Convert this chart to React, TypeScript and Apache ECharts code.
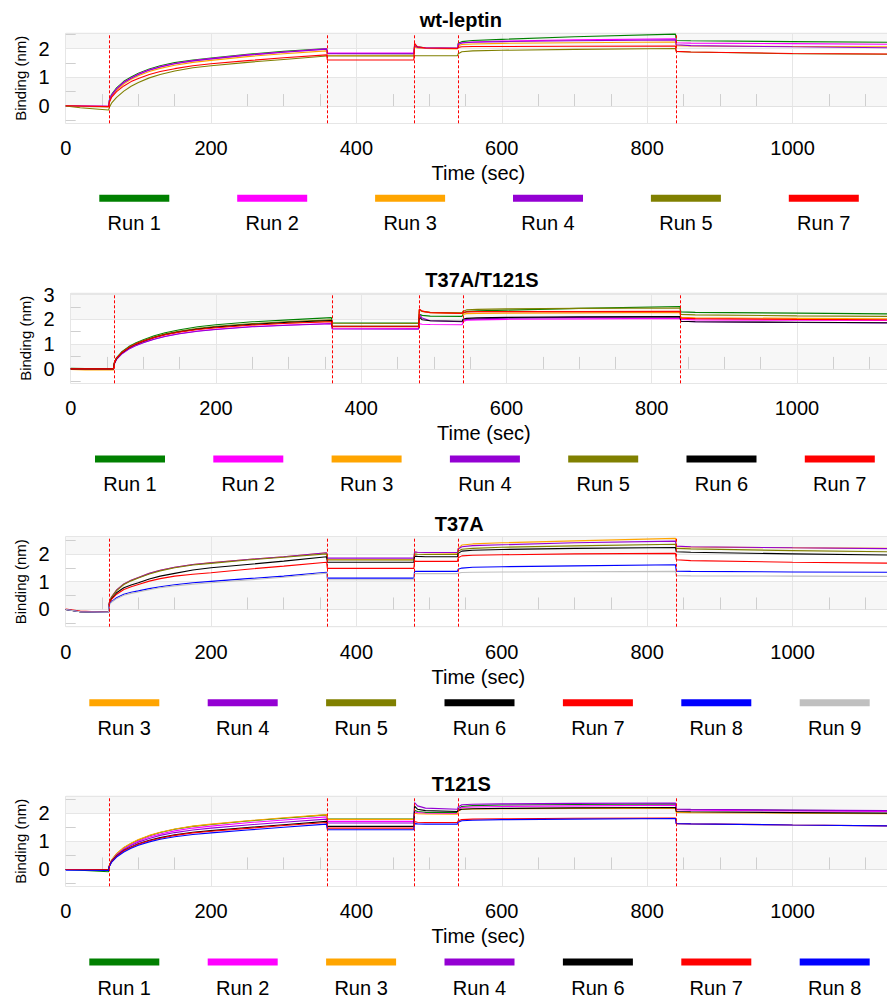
import React, { useEffect, useRef } from "react";
import * as echarts from "echarts";

// ---------- shared axes data ----------
const TIME = [0, 20, 59, 60, 63, 70, 80, 90, 100, 115, 130, 150, 175, 200, 250, 300, 359, 360, 479, 480, 484, 495, 539, 540, 545, 560, 600, 700, 839, 840, 860, 1000, 1130];
const PHASE_STARTS = [60, 360, 480, 540, 840];
const X_MINOR_TICKS = [50, 100, 150, 250, 300, 350, 450, 500, 550, 650, 700, 750, 850, 900, 950, 1050, 1100];
const Y_MINOR_TICKS = [-0.5, 0.5, 1.5, 2.5];

const RUN_COLORS: Record<string, string> = {
  "Run 1": "#008000",
  "Run 2": "#ff00ff",
  "Run 3": "#ffa500",
  "Run 4": "#9400d3",
  "Run 5": "#808000",
  "Run 6": "#000000",
  "Run 7": "#ff0000",
  "Run 8": "#0000ff",
  "Run 9": "#c0c0c0",
};

// ---------- wt-leptin ----------
const WT_RUN1 = [0, -0.01, -0.02, 0.2, 0.4, 0.63, 0.86, 1.01, 1.14, 1.29, 1.4, 1.51, 1.6, 1.67, 1.8, 1.9, 2.0, 1.83, 1.82, 2.1, 2.06, 2.03, 2.02, 2.18, 2.24, 2.28, 2.32, 2.41, 2.5, 2.28, 2.27, 2.24, 2.22];
const WT_RUN2 = [0, 0, -0.01, 0.18, 0.37, 0.6, 0.83, 0.98, 1.11, 1.26, 1.37, 1.48, 1.58, 1.65, 1.78, 1.88, 1.99, 1.84, 1.84, 2.08, 2.05, 2.03, 2.02, 2.15, 2.2, 2.23, 2.26, 2.3, 2.34, 2.2, 2.19, 2.17, 2.15];
const WT_RUN3 = [0, -0.01, -0.02, 0.15, 0.33, 0.55, 0.77, 0.93, 1.05, 1.2, 1.31, 1.42, 1.52, 1.59, 1.72, 1.82, 1.92, 1.76, 1.75, 2.05, 2.02, 2.0, 1.99, 2.1, 2.14, 2.16, 2.18, 2.2, 2.23, 2.1, 2.09, 2.07, 2.06];
const WT_RUN4 = [0, 0, -0.01, 0.18, 0.37, 0.6, 0.82, 0.97, 1.1, 1.25, 1.36, 1.47, 1.57, 1.64, 1.77, 1.87, 1.98, 1.82, 1.82, 2.1, 2.04, 2.02, 2.0, 2.14, 2.19, 2.22, 2.24, 2.27, 2.3, 2.13, 2.1, 2.06, 2.03];
const WT_RUN5 = [0, -0.06, -0.14, -0.05, 0.1, 0.3, 0.52, 0.69, 0.82, 0.98, 1.1, 1.22, 1.33, 1.4, 1.52, 1.62, 1.74, 1.74, 1.74, 1.75, 1.75, 1.75, 1.75, 1.82, 1.89, 1.92, 1.94, 1.97, 2.0, 1.9, 1.88, 1.82, 1.8];
const WT_RUN7 = [0.01, 0, -0.02, 0.12, 0.3, 0.5, 0.7, 0.85, 0.96, 1.1, 1.2, 1.3, 1.4, 1.47, 1.58, 1.68, 1.78, 1.6, 1.6, 2.18, 2.06, 2.02, 2.0, 2.04, 2.06, 2.07, 2.07, 2.08, 2.09, 1.9, 1.88, 1.83, 1.81];

// ---------- T37A/T121S ----------
const DM_RUN1 = [0.03, 0.01, 0, 0.25, 0.45, 0.68, 0.9, 1.06, 1.18, 1.34, 1.46, 1.58, 1.7, 1.78, 1.9, 1.98, 2.07, 1.86, 1.85, 2.2, 2.16, 2.13, 2.12, 2.25, 2.31, 2.34, 2.37, 2.44, 2.52, 2.3, 2.28, 2.25, 2.22];
const DM_RUN2 = [0, 0, 0, 0.2, 0.38, 0.6, 0.8, 0.95, 1.07, 1.21, 1.32, 1.43, 1.53, 1.6, 1.71, 1.77, 1.83, 1.64, 1.63, 1.82, 1.8, 1.79, 1.78, 1.9, 1.96, 1.98, 2.0, 2.02, 2.04, 2.0, 1.98, 1.96, 1.95];
const DM_RUN3 = [-0.02, -0.04, -0.04, 0.22, 0.42, 0.64, 0.85, 1.0, 1.12, 1.27, 1.38, 1.49, 1.6, 1.67, 1.78, 1.85, 1.92, 1.72, 1.72, 2.4, 2.32, 2.27, 2.24, 2.2, 2.23, 2.24, 2.25, 2.26, 2.28, 2.08, 2.06, 2.04, 2.02];
const DM_RUN4 = [0, 0, 0, 0.2, 0.38, 0.6, 0.8, 0.94, 1.06, 1.2, 1.31, 1.42, 1.52, 1.59, 1.7, 1.76, 1.82, 1.61, 1.6, 2.2, 2.05, 1.94, 1.9, 1.95, 2.0, 2.02, 2.05, 2.08, 2.11, 1.92, 1.9, 1.87, 1.85];
const DM_RUN5 = [0, 0, 0, 0.24, 0.44, 0.66, 0.88, 1.03, 1.15, 1.3, 1.42, 1.53, 1.64, 1.72, 1.83, 1.91, 1.98, 1.84, 1.83, 2.38, 2.32, 2.28, 2.26, 2.33, 2.38, 2.4, 2.42, 2.44, 2.46, 2.2, 2.18, 2.14, 2.12];
const DM_RUN6 = [0, 0, 0, 0.22, 0.42, 0.64, 0.85, 1.0, 1.12, 1.27, 1.39, 1.5, 1.61, 1.69, 1.8, 1.88, 1.95, 1.73, 1.72, 2.1, 1.98, 1.94, 1.92, 2.0, 2.04, 2.06, 2.08, 2.1, 2.11, 1.92, 1.9, 1.88, 1.86];
const DM_RUN7 = [0, 0, 0, 0.23, 0.43, 0.65, 0.86, 1.01, 1.13, 1.27, 1.38, 1.49, 1.59, 1.66, 1.77, 1.84, 1.9, 1.7, 1.7, 2.42, 2.33, 2.27, 2.24, 2.28, 2.3, 2.31, 2.31, 2.31, 2.32, 2.05, 2.03, 2.0, 1.98];

// ---------- T37A ----------
const A_RUN3 = [0, -0.08, -0.1, 0.24, 0.45, 0.7, 0.92, 1.05, 1.15, 1.3, 1.41, 1.52, 1.62, 1.69, 1.8, 1.9, 2.04, 1.8, 1.79, 2.06, 2.05, 2.04, 2.03, 2.2, 2.32, 2.36, 2.4, 2.47, 2.56, 2.26, 2.25, 2.22, 2.2];
const A_RUN4 = [0, -0.08, -0.1, 0.24, 0.45, 0.7, 0.92, 1.05, 1.15, 1.3, 1.41, 1.52, 1.62, 1.68, 1.8, 1.9, 2.04, 1.85, 1.85, 2.08, 2.06, 2.05, 2.05, 2.18, 2.26, 2.3, 2.33, 2.4, 2.46, 2.28, 2.26, 2.22, 2.19];
const A_RUN5 = [0, -0.08, -0.1, 0.24, 0.44, 0.68, 0.9, 1.03, 1.13, 1.28, 1.39, 1.5, 1.6, 1.66, 1.78, 1.88, 2.0, 1.78, 1.78, 2.0, 1.99, 1.98, 1.98, 2.1, 2.17, 2.2, 2.24, 2.29, 2.35, 2.2, 2.18, 2.12, 2.08];
const A_RUN6 = [0, -0.08, -0.1, 0.2, 0.38, 0.6, 0.78, 0.88, 0.96, 1.1, 1.2, 1.3, 1.42, 1.5, 1.62, 1.74, 1.9, 1.7, 1.7, 1.92, 1.91, 1.9, 1.9, 2.02, 2.1, 2.13, 2.16, 2.2, 2.23, 2.08, 2.06, 2.0, 1.96];
const A_RUN7 = [0.02, -0.06, -0.1, 0.22, 0.36, 0.55, 0.72, 0.82, 0.9, 1.02, 1.11, 1.2, 1.27, 1.32, 1.45, 1.56, 1.7, 1.48, 1.48, 1.74, 1.73, 1.73, 1.73, 1.86, 1.93, 1.95, 1.97, 2.0, 2.02, 1.79, 1.76, 1.7, 1.67];
const A_RUN8 = [0, -0.08, -0.1, 0.18, 0.28, 0.42, 0.55, 0.62, 0.67, 0.75, 0.82, 0.89, 0.96, 1.01, 1.11, 1.2, 1.34, 1.13, 1.13, 1.37, 1.37, 1.37, 1.37, 1.45, 1.49, 1.52, 1.54, 1.57, 1.61, 1.38, 1.37, 1.35, 1.34];
const A_RUN9 = [0, -0.08, -0.1, 0.17, 0.26, 0.39, 0.51, 0.58, 0.63, 0.71, 0.78, 0.85, 0.91, 0.96, 1.06, 1.16, 1.31, 1.07, 1.07, 1.29, 1.29, 1.29, 1.29, 1.31, 1.33, 1.34, 1.35, 1.36, 1.37, 1.22, 1.21, 1.2, 1.19];

// ---------- T121S ----------
const S_RUN1 = [0, -0.03, -0.08, 0.12, 0.32, 0.55, 0.77, 0.92, 1.05, 1.2, 1.31, 1.43, 1.53, 1.6, 1.72, 1.82, 1.94, 1.79, 1.79, 2.1, 2.06, 2.03, 2.02, 2.15, 2.24, 2.27, 2.29, 2.31, 2.33, 2.14, 2.13, 2.1, 2.08];
const S_RUN2 = [0, 0, -0.01, 0.12, 0.31, 0.53, 0.74, 0.89, 1.01, 1.15, 1.26, 1.37, 1.47, 1.54, 1.66, 1.76, 1.87, 1.71, 1.71, 2.05, 2.02, 2.0, 1.99, 2.12, 2.2, 2.22, 2.24, 2.26, 2.28, 2.12, 2.11, 2.08, 2.06];
const S_RUN3 = [0, 0, -0.01, 0.13, 0.33, 0.56, 0.78, 0.93, 1.06, 1.21, 1.32, 1.44, 1.54, 1.61, 1.73, 1.84, 1.95, 1.78, 1.78, 2.0, 1.98, 1.97, 1.96, 2.08, 2.14, 2.15, 2.16, 2.17, 2.18, 2.03, 2.02, 2.0, 1.98];
const S_RUN4 = [0, 0, -0.01, 0.12, 0.3, 0.51, 0.71, 0.85, 0.97, 1.1, 1.21, 1.31, 1.4, 1.47, 1.58, 1.68, 1.79, 1.65, 1.65, 2.38, 2.26, 2.18, 2.14, 2.22, 2.3, 2.32, 2.33, 2.35, 2.36, 2.15, 2.14, 2.11, 2.09];
const S_RUN6 = [0, 0, -0.01, 0.11, 0.28, 0.48, 0.67, 0.8, 0.91, 1.04, 1.13, 1.23, 1.32, 1.38, 1.49, 1.59, 1.71, 1.53, 1.53, 2.25, 2.14, 2.09, 2.06, 2.1, 2.14, 2.16, 2.17, 2.19, 2.2, 2.06, 2.05, 2.02, 2.0];
const S_RUN7 = [0, 0, -0.01, 0.11, 0.27, 0.47, 0.66, 0.79, 0.9, 1.02, 1.11, 1.21, 1.3, 1.36, 1.46, 1.56, 1.67, 1.47, 1.47, 1.7, 1.68, 1.67, 1.67, 1.73, 1.77, 1.79, 1.8, 1.82, 1.83, 1.63, 1.62, 1.58, 1.55];
const S_RUN8 = [-0.03, -0.03, -0.04, 0.1, 0.25, 0.44, 0.62, 0.75, 0.86, 0.98, 1.07, 1.16, 1.24, 1.3, 1.4, 1.5, 1.61, 1.41, 1.41, 1.63, 1.62, 1.61, 1.61, 1.68, 1.73, 1.75, 1.77, 1.79, 1.81, 1.63, 1.62, 1.58, 1.55];

const FONT = '"Liberation Sans", Arial, Helvetica, sans-serif';

type Panel = {
  title: string;
  titleX: number;
  titleY: number;
  gridLeft: number;
  gridTop: number;
  xMax: number;
  yMin: number;
  yMax: number;
  legendLeft: number;
  legendGap: number;
  swatchY: number;
  labelY: number;
  namePad: number;
  runs: [string, number[]][];
};

const PANELS: Panel[] = [
  {
    title: "wt-leptin", titleX: 460.8, titleY: 20.3, gridLeft: 65.7, gridTop: 33.3, xMax: 1130,
    yMin: -0.6, yMax: 2.53, legendLeft: 99.3, legendGap: 137.9, swatchY: 198.3, labelY: 223.3, namePad: 4,
    runs: [["Run 1", WT_RUN1], ["Run 2", WT_RUN2], ["Run 3", WT_RUN3], ["Run 4", WT_RUN4], ["Run 5", WT_RUN5], ["Run 7", WT_RUN7]],
  },
  {
    title: "T37A/T121S", titleX: 482, titleY: 280, gridLeft: 70.7, gridTop: 293.3, xMax: 1124,
    yMin: -0.58, yMax: 3.05, legendLeft: 95, legendGap: 118.3, swatchY: 459, labelY: 483.8, namePad: 10,
    runs: [["Run 1", DM_RUN1], ["Run 2", DM_RUN2], ["Run 3", DM_RUN3], ["Run 4", DM_RUN4], ["Run 5", DM_RUN5], ["Run 6", DM_RUN6], ["Run 7", DM_RUN7]],
  },
  {
    title: "T37A", titleX: 459.2, titleY: 523.6, gridLeft: 65.7, gridTop: 536.7, xMax: 1130,
    yMin: -0.62, yMax: 2.62, legendLeft: 89.3, legendGap: 118.4, swatchY: 702.7, labelY: 727.8, namePad: 4,
    runs: [["Run 3", A_RUN3], ["Run 4", A_RUN4], ["Run 5", A_RUN5], ["Run 6", A_RUN6], ["Run 7", A_RUN7], ["Run 8", A_RUN8], ["Run 9", A_RUN9]],
  },
  {
    title: "T121S", titleX: 461.3, titleY: 784, gridLeft: 65.7, gridTop: 796.3, xMax: 1130,
    yMin: -0.6, yMax: 2.6, legendLeft: 89.3, legendGap: 118.4, swatchY: 962, labelY: 987.8, namePad: 4,
    runs: [["Run 1", S_RUN1], ["Run 2", S_RUN2], ["Run 3", S_RUN3], ["Run 4", S_RUN4], ["Run 6", S_RUN6], ["Run 7", S_RUN7], ["Run 8", S_RUN8]],
  },
];

function buildOption() {
  const grid: any[] = [];
  const xAxis: any[] = [];
  const yAxis: any[] = [];
  const series: any[] = [];
  const graphic: any[] = [];
  const W = 887;
  PANELS.forEach((p, pi) => {
    grid.push({
      left: p.gridLeft, top: p.gridTop, width: W - p.gridLeft, height: 90,
      show: true, borderColor: "#e2e2e2", borderWidth: 1, backgroundColor: "transparent",
      containLabel: false, outerBoundsMode: "none",
    });
    xAxis.push({
      type: "value", gridIndex: pi, position: "bottom", min: 0, max: p.xMax, interval: 200,
      axisLine: { show: true, lineStyle: { color: "#e2e2e2", width: 1 } },
      axisTick: { show: false },
      splitLine: { show: true, lineStyle: { color: "#e6e6e6", width: 1 } },
      axisLabel: {
        show: true, fontSize: 20, color: "#000", fontFamily: FONT, margin: 15,
        formatter: (v: number) => (v % 200 === 0 ? String(v) : ""),
      },
      name: "Time (sec)", nameLocation: "middle", nameGap: 40,
      nameTextStyle: { fontSize: 20, color: "#000", fontFamily: FONT, padding: [0, 0, 0, p.namePad] },
    });
    xAxis.push({
      type: "value", gridIndex: pi, position: "bottom", min: 0, max: p.xMax,
      axisLine: { show: false }, axisLabel: { show: false }, splitLine: { show: false },
      axisTick: { show: true, inside: true, length: 12, customValues: X_MINOR_TICKS, lineStyle: { color: "#cfcfcf", width: 1 } },
    });
    yAxis.push({
      type: "value", gridIndex: pi, position: "left", min: p.yMin, max: p.yMax, minInterval: 1, maxInterval: 1,
      axisLine: { show: false }, axisTick: { show: false },
      splitLine: { show: true, lineStyle: { color: "#e6e6e6", width: 1 } },
      splitArea: { show: true, areaStyle: { color: ["#ffffff", "#f7f7f7"] } },
      axisLabel: {
        show: true, fontSize: 20, color: "#000", fontFamily: FONT, margin: 16,
        formatter: (v: number) => (Math.abs(v - Math.round(v)) < 1e-9 ? String(Math.round(v)) : ""),
      },
      name: "Binding (nm)", nameLocation: "middle", nameRotate: 90, nameGap: 38,
      nameTextStyle: { fontSize: 15, color: "#000", fontFamily: FONT },
    });
    yAxis.push({
      type: "value", gridIndex: pi, position: "left", min: p.yMin, max: p.yMax,
      axisLine: { show: false }, axisLabel: { show: false }, splitLine: { show: false }, splitArea: { show: false },
      axisTick: { show: true, inside: true, length: 10, customValues: Y_MINOR_TICKS, lineStyle: { color: "#cfcfcf", width: 1 } },
    });
    p.runs.forEach(([name, vals], ri) => {
      const s: any = {
        type: "line", name: `${p.title} ${name}`, xAxisIndex: pi * 2, yAxisIndex: pi * 2,
        data: TIME.map((t, i) => [t, vals[i]]),
        showSymbol: false, symbol: "none", silent: true,
        lineStyle: { color: RUN_COLORS[name], width: 1.1 },
        itemStyle: { color: RUN_COLORS[name] },
        emphasis: { disabled: true },
        z: 3,
      };
      if (ri === 0) {
        s.markLine = {
          silent: true, symbol: ["none", "none"], label: { show: false },
          lineStyle: { color: "#ff0000", type: [3, 2], width: 1 },
          emphasis: { disabled: true },
          data: PHASE_STARTS.map((x) => ({ xAxis: x })),
        };
      }
      series.push(s);
      const sx = p.legendLeft + ri * p.legendGap;
      graphic.push({
        type: "rect", silent: true,
        shape: { x: sx, y: p.swatchY - 3.5, width: 70, height: 7 },
        style: { fill: RUN_COLORS[name] },
      });
      graphic.push({
        type: "text", silent: true, x: sx + 35, y: p.labelY,
        style: {
          text: name, fill: "#000", font: `20px ${FONT}`,
          textAlign: "center", textVerticalAlign: "middle", align: "center", verticalAlign: "middle",
        },
      });
    });
    graphic.push({
      type: "text", silent: true, x: p.titleX, y: p.titleY,
      style: {
        text: p.title, fill: "#000", font: `bold 20px ${FONT}`,
        textAlign: "center", textVerticalAlign: "middle", align: "center", verticalAlign: "middle",
      },
    });
  });
  return {
    animation: false,
    backgroundColor: "#ffffff",
    textStyle: { fontFamily: FONT },
    grid, xAxis, yAxis, series, graphic,
  };
}

export default function App() {
  const ref = useRef<HTMLDivElement>(null);
  useEffect(() => {
    if (!ref.current) return;
    const chart = echarts.init(ref.current, undefined, { renderer: "svg" });
    chart.setOption(buildOption() as any);
    return () => chart.dispose();
  }, []);
  return (
    <div
      ref={ref}
      style={{ position: "absolute", left: 0, top: 0, width: 887, height: 1001, background: "#fff" }}
    />
  );
}
